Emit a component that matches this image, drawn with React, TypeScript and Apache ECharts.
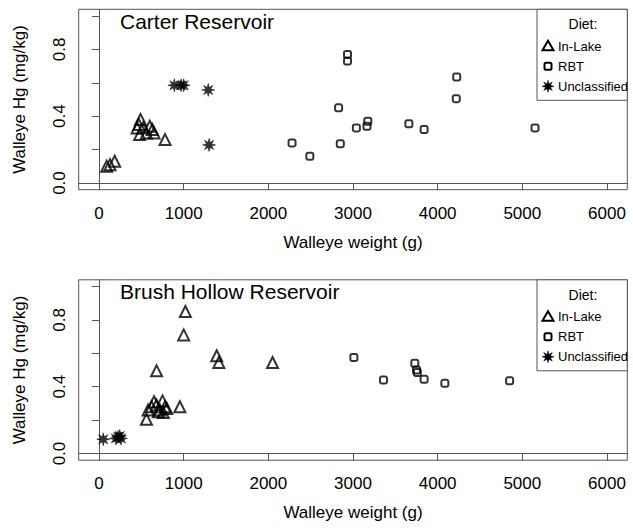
import React, { useEffect, useRef } from "react";
import * as echarts from "echarts";

// ---- data ----
const carterInLake: number[][] = [
  [90, 0.10], [130, 0.11], [185, 0.13],
  [450, 0.33], [470, 0.35], [490, 0.38], [480, 0.29], [520, 0.33],
  [560, 0.30], [600, 0.34], [630, 0.32], [650, 0.30], [780, 0.26],
];
const carterRBT: number[][] = [
  [2280, 0.24], [2490, 0.16], [2830, 0.45], [2850, 0.235],
  [2935, 0.77], [2935, 0.73], [3040, 0.33], [3165, 0.34], [3175, 0.37],
  [3660, 0.355], [3840, 0.32], [4225, 0.635], [4220, 0.505], [5150, 0.33],
];
const carterUnclass: number[][] = [
  [890, 0.585], [970, 0.585], [1000, 0.585], [1290, 0.557], [1300, 0.228],
];
const brushInLake: number[][] = [
  [1020, 0.85], [1000, 0.71], [1390, 0.585], [1415, 0.545], [2050, 0.545],
  [680, 0.495], [650, 0.31], [750, 0.315], [580, 0.26], [800, 0.27],
  [955, 0.28], [560, 0.205], [700, 0.25], [720, 0.26], [760, 0.245],
  [680, 0.29], [780, 0.28], [620, 0.28],
];
const brushRBT: number[][] = [
  [3010, 0.575], [3360, 0.44], [3730, 0.54], [3750, 0.50], [3760, 0.485],
  [3840, 0.445], [4085, 0.42], [4850, 0.435],
];
const brushUnclass: number[][] = [
  [50, 0.085], [200, 0.09], [225, 0.10], [245, 0.105], [260, 0.09],
];
const xTicks = [0, 1000, 2000, 3000, 4000, 5000, 6000];
const yTicks = [0, 0.2, 0.4, 0.6, 0.8, 1.0];
const yLabels = [0, 0.4, 0.8];
const panelTitles = ["Carter Reservoir", "Brush Hollow Reservoir"];
const dietNames = ["In-Lake", "RBT", "Unclassified"];

const FONT = "Liberation Sans, Arial, Helvetica, sans-serif";

function starPoints(cx: number, cy: number, ro: number, ri: number): number[][] {
  const pts: number[][] = [];
  for (let k = 0; k < 16; k++) {
    const a = (k * Math.PI) / 8;
    const r = k % 2 === 0 ? ro : ri;
    pts.push([+(cx + r * Math.cos(a)).toFixed(2), +(cy + r * Math.sin(a)).toFixed(2)]);
  }
  return pts;
}
const STAR =
  "path://" +
  starPoints(10, 10, 10, 4.2)
    .map((p, i) => (i === 0 ? "M" : "L") + p[0] + " " + p[1])
    .join(" ") +
  " Z";

const GRID_LEFT = 78.7;
const GRID_W = 548.6;
const GRID_H = 180.4;
const TOPS = [9.3, 279.8];
const BOX = "#555";

export default function App() {
  const ref = useRef<HTMLDivElement>(null);
  useEffect(() => {
    if (!ref.current) return;
    const chart = echarts.init(ref.current, undefined, { renderer: "svg" });
    const panels = [
      [carterInLake, carterRBT, carterUnclass],
      [brushInLake, brushRBT, brushUnclass],
    ];
    const grids = TOPS.map((t) => ({
      left: GRID_LEFT, top: t, width: GRID_W, height: GRID_H,
      show: true, borderColor: BOX, borderWidth: 1, backgroundColor: "transparent",
    }));
    const xAxes = TOPS.map((_, i) => ({
      gridIndex: i, type: "value", min: -240, max: 6240,
      axisLine: { show: true, lineStyle: { color: BOX } },
      splitLine: { show: false },
      axisTick: { show: true, customValues: xTicks, length: 7, lineStyle: { color: BOX } },
      axisLabel: {
        customValues: xTicks, fontSize: 17, color: "#000", margin: 15, fontFamily: FONT,
        formatter: (v: number) => String(v),
      },
      name: "Walleye weight (g)", nameLocation: "middle", nameGap: 44,
      nameTextStyle: { fontSize: 17, color: "#000", fontFamily: FONT },
    }));
    const yAxes = TOPS.map((_, i) => ({
      gridIndex: i, type: "value", min: -0.04, max: 1.04,
      axisLine: { show: true, lineStyle: { color: BOX } },
      splitLine: { show: false },
      axisTick: { show: true, customValues: yTicks, length: 7, lineStyle: { color: BOX } },
      axisLabel: {
        customValues: yLabels, rotate: 90, fontSize: 17, color: "#000", margin: 11,
        align: "center", verticalAlign: "bottom",
        fontFamily: FONT, formatter: (v: number) => v.toFixed(1),
      },
      name: "Walleye Hg (mg/kg)", nameLocation: "middle", nameGap: 51,
      nameMoveOverlap: false,
      nameTextStyle: { fontSize: 17, color: "#000", fontFamily: FONT },
    }));
    const symbols = ["triangle", "roundRect", STAR];
    const sizes = [11, 7, 13];
    const series: any[] = [];
    panels.forEach((p, gi) => {
      p.forEach((d, k) => {
        series.push({
          type: "scatter", name: dietNames[k], xAxisIndex: gi, yAxisIndex: gi,
          data: d, symbol: symbols[k], symbolSize: sizes[k],
          itemStyle: k === 2
            ? { color: "#000", borderColor: "#000", borderWidth: 0.6 }
            : { color: "rgba(255,255,255,0)", borderColor: "#000", borderWidth: 2 },
          emphasis: { disabled: true },
        });
      });
    });
    const graphics: any[] = [];
    const LX = 548;
    TOPS.forEach((t, i) => {
      graphics.push({
        type: "rect", shape: { x: 537, y: t, width: GRID_LEFT + GRID_W - 537, height: 91 },
        style: { fill: "#fff", stroke: BOX, lineWidth: 1 }, z: 1,
      });
      graphics.push({
        type: "text", x: 583, y: t + 15,
        style: { text: "Diet:", fill: "#000", font: `14px ${FONT}`, align: "center", verticalAlign: "middle" },
        z: 2,
      });
      const rows = [t + 37, t + 57, t + 77];
      graphics.push({
        type: "polygon",
        shape: { points: [[LX, rows[0] - 5.5], [LX + 5.5, rows[0] + 4], [LX - 5.5, rows[0] + 4]] },
        style: { fill: "none", stroke: "#000", lineWidth: 2 }, z: 2,
      });
      graphics.push({
        type: "rect", shape: { x: LX - 3.5, y: rows[1] - 3.5, width: 7, height: 7, r: 1.5 },
        style: { fill: "none", stroke: "#000", lineWidth: 2 }, z: 2,
      });
      graphics.push({
        type: "polygon", shape: { points: starPoints(LX, rows[2], 6, 2.6) },
        style: { fill: "#000", stroke: "#000", lineWidth: 0.5 }, z: 2,
      });
      dietNames.forEach((n, k) => {
        graphics.push({
          type: "text", x: 558, y: rows[k],
          style: { text: n, fill: "#000", font: `13px ${FONT}`, verticalAlign: "middle" },
          z: 2,
        });
      });
      graphics.push({
        type: "text", x: 120, y: t + 12,
        style: { text: panelTitles[i], fill: "#000", font: `21px ${FONT}`, verticalAlign: "middle" },
        z: 2,
      });
    });
    chart.setOption({
      animation: false,
      backgroundColor: "#fff",
      textStyle: { fontFamily: FONT },
      grid: grids,
      xAxis: xAxes,
      yAxis: yAxes,
      series,
      graphic: graphics,
    });
    return () => chart.dispose();
  }, []);
  return (
    <div
      ref={ref}
      style={{ position: "fixed", left: 0, top: 0, width: 633, height: 528 }}
    />
  );
}
